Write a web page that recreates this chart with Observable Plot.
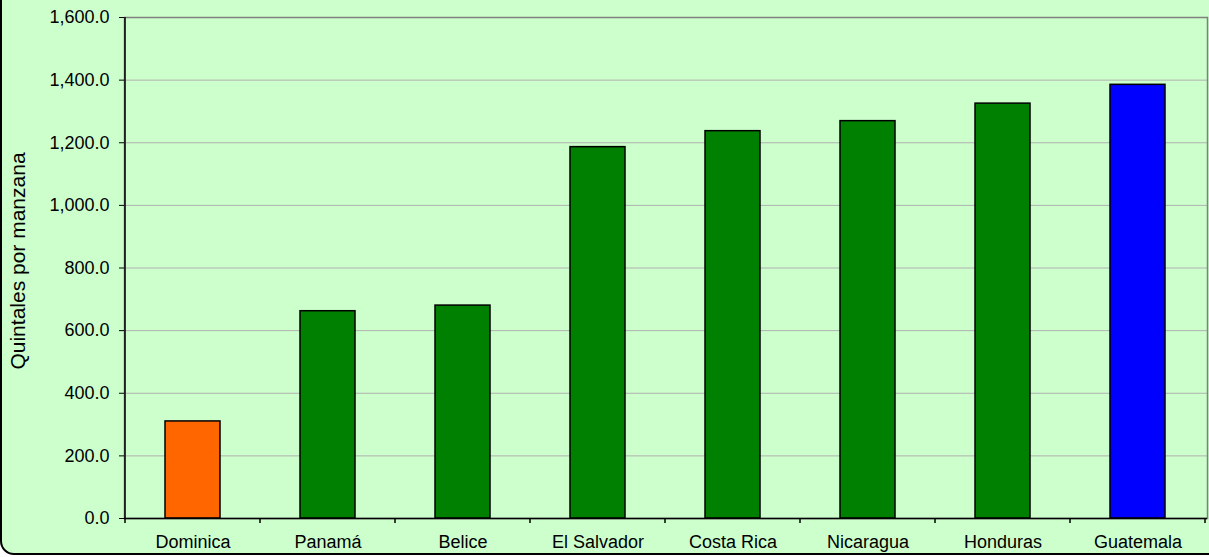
<!DOCTYPE html>
<html>
<head>
<meta charset="utf-8">
<script src="https://cdn.jsdelivr.net/npm/d3@7"></script>
<script src="https://cdn.jsdelivr.net/npm/@observablehq/plot@0.6"></script>
<style>
  html, body { margin: 0; padding: 0; background: #ffffff; overflow: hidden; }
  #wrap { position: relative; width: 1209px; height: 557px; overflow: hidden; }
  #bg { position: absolute; left: 0px; top: -20px; width: 1260px; height: 575px;
        background: #CCFFCC; border: 2px solid #000; border-radius: 14px; box-sizing: border-box; }
  #chart { position: absolute; left: 0; top: 0; }
</style>
</head>
<body>
<div id="wrap"><div id="bg"></div><div id="chart"></div></div>
<script>
const countries = ["Dominica", "Panamá", "Belice", "El Salvador", "Costa Rica", "Nicaragua", "Honduras", "Guatemala"];
const values = [310, 662, 680, 1186, 1237, 1269, 1325, 1385];
const barColors = ["#FF6600", "#008000", "#008000", "#008000", "#008000", "#008000", "#008000", "#0000FF"];
const yTicks = [0, 200, 400, 600, 800, 1000, 1200, 1400, 1600];
const yLabel = "Quintales por manzana";

const data = countries.map((c, i) => ({country: c, value: values[i], color: barColors[i]}));

const plot = Plot.plot({
  width: 1209,
  height: 557,
  marginLeft: 124,
  marginRight: 2,
  marginTop: 17,
  marginBottom: 39,
  style: {fontFamily: "'Liberation Sans', Arial, sans-serif", fontSize: "18px", color: "#000", background: "transparent", overflow: "visible"},
  x: {domain: countries, paddingInner: 0.59, paddingOuter: 0.295, label: null},
  y: {domain: [0, 1600], label: null},
  color: {type: "identity"},
  marks: [
    Plot.gridY(yTicks, {stroke: "#B0B0B0", strokeOpacity: 1, strokeWidth: 1}),
    Plot.frame({stroke: "#808080", strokeWidth: 1.5}),
    Plot.barY(data, {x: "country", y: "value", fill: "color", stroke: "#000", strokeWidth: 1.5}),
    Plot.ruleY([0], {stroke: "#000", strokeWidth: 1.5}),
    Plot.axisY({ticks: yTicks, tickFormat: d3.format(",.1f"), tickSize: 5, tickPadding: 10, label: null, stroke: "#000", fontSize: 18}),
    Plot.axisX({tickSize: 0, tickPadding: 17, label: null, fontSize: 18}),
    Plot.text([yLabel], {frameAnchor: "left", textAnchor: "middle", lineAnchor: "middle", rotate: -90, dx: -106, dy: -7, fill: "#000", fontSize: 21})
  ]
});

document.getElementById("chart").appendChild(plot);

// left axis line and category boundary ticks, positioned with Plot's own scales
const sx = plot.scale("x");
const sy = plot.scale("y");
const y0 = sy.apply(0);
const yTop = sy.apply(1600);
const svg = d3.select(plot);
const g = svg.append("g").attr("stroke", "#000").attr("stroke-width", 1.5);
const half = (sx.step - sx.bandwidth) / 2;
const bounds = countries.map(c => sx.apply(c) - half);
bounds.push(sx.apply(countries[countries.length - 1]) + sx.bandwidth + half);
bounds.slice(1).forEach(x => {
  g.append("line").attr("x1", x).attr("x2", x).attr("y1", y0).attr("y2", y0 + 5);
});
g.append("line").attr("x1", bounds[0]).attr("x2", bounds[0]).attr("y1", yTop).attr("y2", y0 + 5);
</script>
</body>
</html>
